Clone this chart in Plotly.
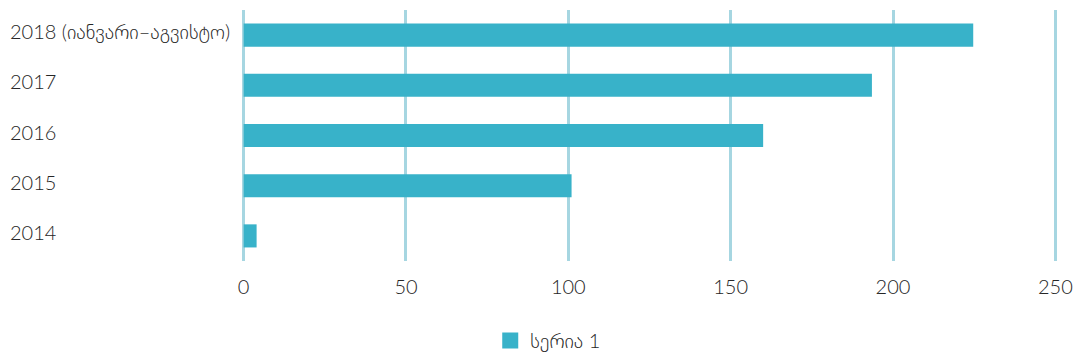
import plotly.graph_objects as go

categories = ["2014", "2015", "2016", "2017", "2018 (იანვარი–აგვისტო)"]
values = [4, 101, 160, 193.5, 224.7]
series_name = "სერია 1"
x_ticks = [0, 50, 100, 150, 200, 250]

bar_color = "#38b2c9"
grid_color = "#a6d6e1"
text_color = "#262626"
font_family = "Lato, DejaVu Sans, sans-serif"

fig = go.Figure()
fig.add_trace(go.Bar(
    y=list(range(len(categories))), x=values, orientation="h",
    marker=dict(color=bar_color, line=dict(width=0)),
    width=0.46, name=series_name, showlegend=False,
))
# legend entry with a larger square swatch
fig.add_trace(go.Scatter(
    x=[None], y=[None], mode="markers", name=series_name,
    marker=dict(symbol="square", size=22, color=bar_color),
    showlegend=True,
))

for i, c in enumerate(categories):
    fig.add_annotation(
        x=0, xref="paper", xshift=-234, y=i, yref="y", yshift=4,
        text=c, showarrow=False, xanchor="left", yanchor="middle",
        font=dict(family=font_family, size=20, color=text_color, weight=300),
    )

fig.update_layout(
    width=1074, height=360,
    margin=dict(l=242.4, r=17.4, t=10, b=99, autoexpand=False),
    paper_bgcolor="white", plot_bgcolor="white",
    font=dict(family=font_family, size=20, color=text_color, weight=300),
    xaxis=dict(
        range=[-0.5, 250.5], tickvals=x_ticks, showgrid=True, gridcolor=grid_color,
        gridwidth=2.5, zeroline=False, showline=False, ticks="",
        ticklabelstandoff=12, automargin=False,
    ),
    yaxis=dict(showticklabels=False, showgrid=False, zeroline=False,
               range=[-0.5, 4.5], automargin=False),
    legend=dict(orientation="h", x=0.51, xref="container", xanchor="center",
                y=0, yref="container", yanchor="bottom",
                itemsizing="trace",
                font=dict(size=20, family=font_family, color=text_color)),
)

fig.write_html("out.html")
